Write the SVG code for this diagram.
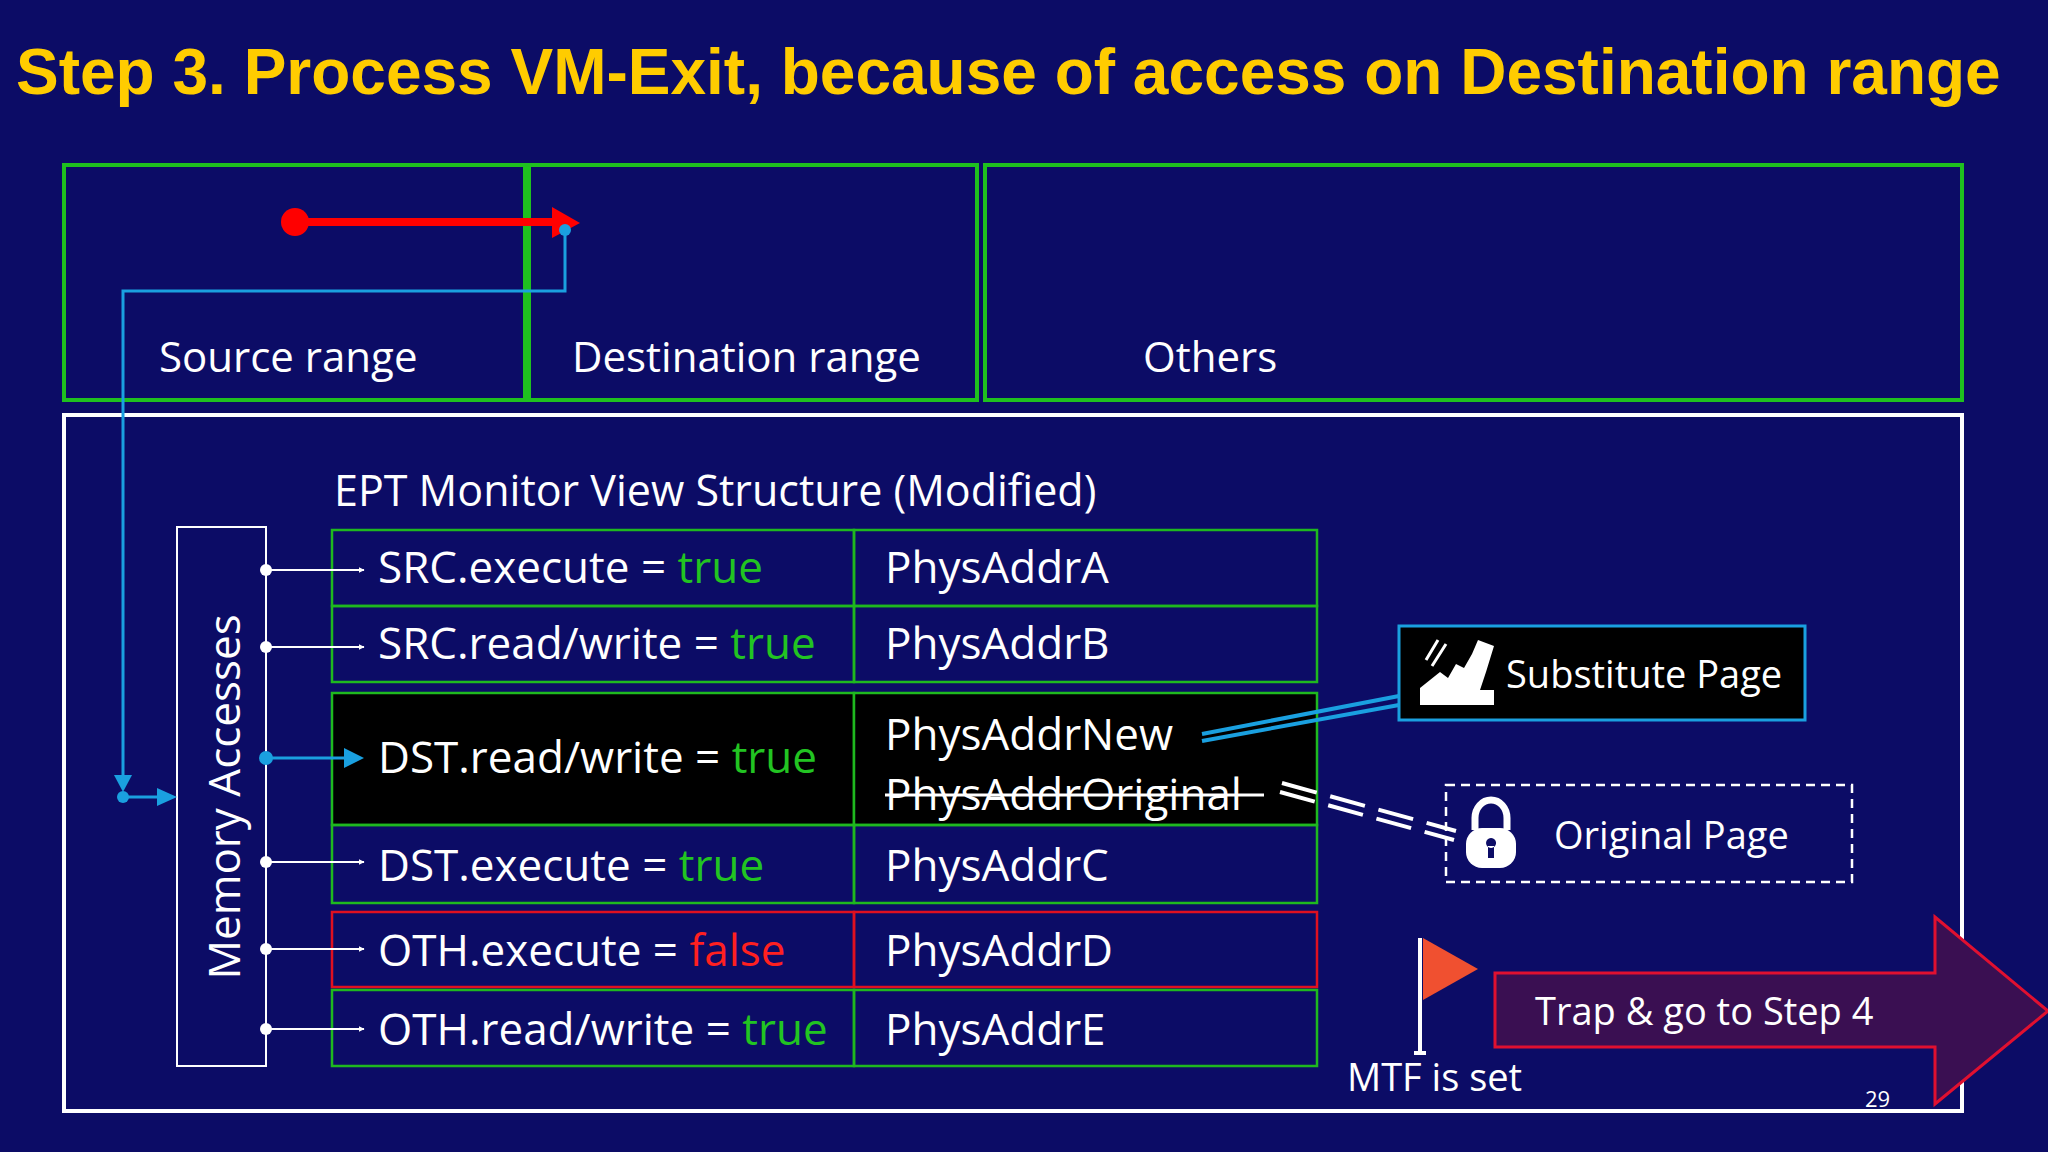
<svg xmlns="http://www.w3.org/2000/svg" width="2048" height="1152" viewBox="0 0 2048 1152">
<style>
.t{font-family:"Open Sans","Liberation Sans",sans-serif;fill:#fff}
.g{fill:#22c422}
.cell{fill:none;stroke:#1fb81f;stroke-width:2.5}
.wl{stroke:#fff;stroke-width:2;fill:none}
.bl{stroke:#1aa0e0;stroke-width:3;fill:none}
</style>
<defs>
<marker id="wa" viewBox="0 0 10 10" refX="9" refY="5" markerWidth="6" markerHeight="6" orient="auto" markerUnits="userSpaceOnUse"><path d="M0,0L10,5L0,10z" fill="#fff"/></marker>
</defs>
<rect width="2048" height="1152" fill="#0c0c66"/>
<text x="16" y="94" font-family="Liberation Sans,Arial,sans-serif" font-weight="bold" font-size="64" fill="#ffcc00">Step 3. Process VM-Exit, because of access on Destination range</text>

<g id="source"><rect x="64" y="165" width="461" height="235" fill="none" stroke="#1fc01f" stroke-width="4"/><text class="t" x="159" y="372" font-size="42">Source range</text></g>
<g id="dest"><rect x="529" y="165" width="448" height="235" fill="none" stroke="#1fc01f" stroke-width="4"/><text class="t" x="572" y="372" font-size="42">Destination range</text></g>
<g id="others"><rect x="985" y="165" width="977" height="235" fill="none" stroke="#1fc01f" stroke-width="4"/><text class="t" x="1143" y="372" font-size="42">Others</text></g>

<g id="monitor"><rect x="64" y="415" width="1898" height="696" fill="none" stroke="#fff" stroke-width="4"/>
<text class="t" x="334" y="506" font-size="43">EPT Monitor View Structure (Modified)</text></g>

<g id="mem"><rect x="177" y="527" width="89" height="539" fill="none" stroke="#fff" stroke-width="2"/>
<text class="t" font-size="44" text-anchor="middle" transform="translate(240,797) rotate(-90)">Memory Accesses</text></g>

<g id="table">
<rect class="cell" x="332" y="530" width="522" height="76"/><rect class="cell" x="854" y="530" width="463" height="76"/>
<rect class="cell" x="332" y="606" width="522" height="76"/><rect class="cell" x="854" y="606" width="463" height="76"/>
<rect x="332" y="693" width="522" height="132" fill="#000" stroke="#1fb81f" stroke-width="2.5"/><rect x="854" y="693" width="463" height="132" fill="#000" stroke="#1fb81f" stroke-width="2.5"/>
<rect class="cell" x="332" y="825" width="522" height="78"/><rect class="cell" x="854" y="825" width="463" height="78"/>
<rect x="332" y="912" width="522" height="75" fill="none" stroke="#e01020" stroke-width="2.5"/><rect x="854" y="912" width="463" height="75" fill="none" stroke="#e01020" stroke-width="2.5"/>
<rect class="cell" x="332" y="990" width="522" height="76"/><rect class="cell" x="854" y="990" width="463" height="76"/>
<g class="t" font-size="44">
<text x="378" y="583">SRC.execute = <tspan class="g">true</tspan></text>
<text x="378" y="659">SRC.read/write = <tspan class="g">true</tspan></text>
<text x="378" y="773">DST.read/write = <tspan class="g">true</tspan></text>
<text x="378" y="881">DST.execute = <tspan class="g">true</tspan></text>
<text x="378" y="966">OTH.execute  = <tspan fill="#ff2020">false</tspan></text>
<text x="378" y="1045">OTH.read/write = <tspan class="g">true</tspan></text>
<text x="885" y="583">PhysAddrA</text>
<text x="885" y="659">PhysAddrB</text>
<text x="885" y="750">PhysAddrNew</text>
<text x="885" y="810">PhysAddrOriginal</text>
<text x="885" y="881">PhysAddrC</text>
<text x="885" y="966">PhysAddrD</text>
<text x="885" y="1045">PhysAddrE</text>
</g>
<line x1="885" y1="795" x2="1264" y2="795" stroke="#fff" stroke-width="3"/>
</g>

<g id="substitute"><rect x="1399" y="626" width="406" height="94" fill="#000" stroke="#1aa0e0" stroke-width="3"/>
<path d="M1420,705 L1420,688 L1440,672 L1448,678 L1456,664 L1464,668 L1472,654 L1478,640 L1494,646 L1486,672 L1480,690 L1494,690 L1494,705 Z" fill="#fff"/>
<path d="M1426,660 L1438,640 M1432,666 L1446,644" stroke="#fff" stroke-width="3"/>
<text class="t" x="1506" y="688" font-size="38">Substitute Page</text></g>

<g id="original"><rect x="1446" y="785" width="406" height="97" fill="none" stroke="#fff" stroke-width="2.5" stroke-dasharray="9,6"/>
<path d="M1475,830 v-12 a16,18 0 0 1 32,0 v12" fill="none" stroke="#fff" stroke-width="7"/>
<rect x="1466" y="828" width="50" height="40" rx="16" fill="#fff"/>
<path d="M1491,838 a5,5 0 1 0 0.1,0 M1488,846 h6 v12 h-6z" fill="#0c0c66"/>
<text class="t" x="1554" y="849" font-size="38">Original Page</text></g>

<g id="mtf"><line x1="1420" y1="938" x2="1420" y2="1053" stroke="#fff" stroke-width="4"/><line x1="1414" y1="1053" x2="1426" y2="1053" stroke="#fff" stroke-width="4"/>
<path d="M1423,938 L1478,969 L1423,1000 Z" fill="#f05030"/>
<text class="t" x="1347" y="1091" font-size="38">MTF is set</text></g>

<g id="trap"><path d="M1495,973 H1935 V917 L2048,1011 L1935,1104 V1047 H1495 Z" fill="#3a0f52" stroke="#e01030" stroke-width="3"/>
<text class="t" x="1535" y="1025" font-size="38">Trap &amp; go to Step 4</text></g>

<text class="t" x="1865" y="1107" font-size="22">29</text>

<g id="connectors">
<line x1="295" y1="222" x2="560" y2="222" stroke="#ff0000" stroke-width="8"/>
<circle cx="295" cy="222" r="14" fill="#ff0000"/>
<path d="M552,207 L580,223 L552,238 Z" fill="#ff0000"/>
<circle cx="565" cy="230" r="6" fill="#1aa0e0"/>
<path class="bl" d="M565,230 V291 H123 V775"/>
<path d="M114,775 L132,775 L123,792 Z" fill="#1aa0e0"/>
<circle cx="123" cy="797" r="6" fill="#1aa0e0"/>
<line class="bl" x1="123" y1="797" x2="160" y2="797"/>
<path d="M157,788 L177,797 L157,806 Z" fill="#1aa0e0"/>
<g fill="#fff">
<circle cx="266" cy="570" r="6"/><circle cx="266" cy="647" r="6"/><circle cx="266" cy="862" r="6"/><circle cx="266" cy="949" r="6"/><circle cx="266" cy="1029" r="6"/></g>
<line class="wl" x1="266" y1="570" x2="364" y2="570" marker-end="url(#wa)"/>
<line class="wl" x1="266" y1="647" x2="364" y2="647" marker-end="url(#wa)"/>
<line class="wl" x1="266" y1="862" x2="364" y2="862" marker-end="url(#wa)"/>
<line class="wl" x1="266" y1="949" x2="364" y2="949" marker-end="url(#wa)"/>
<line class="wl" x1="266" y1="1029" x2="364" y2="1029" marker-end="url(#wa)"/>
<circle cx="266" cy="758" r="7" fill="#1aa0e0"/>
<line class="bl" x1="266" y1="758" x2="346" y2="758"/>
<path d="M344,748 L364,758 L344,768 Z" fill="#1aa0e0"/>
<line x1="1202" y1="734" x2="1399" y2="696" stroke="#1aa0e0" stroke-width="4"/>
<line x1="1202" y1="741" x2="1399" y2="705" stroke="#1aa0e0" stroke-width="4"/>
<line x1="1282" y1="783" x2="1456" y2="831" stroke="#fff" stroke-width="4" stroke-dasharray="36,14"/>
<line x1="1280" y1="792" x2="1454" y2="840" stroke="#fff" stroke-width="4" stroke-dasharray="36,14"/>
</g>
</svg>
